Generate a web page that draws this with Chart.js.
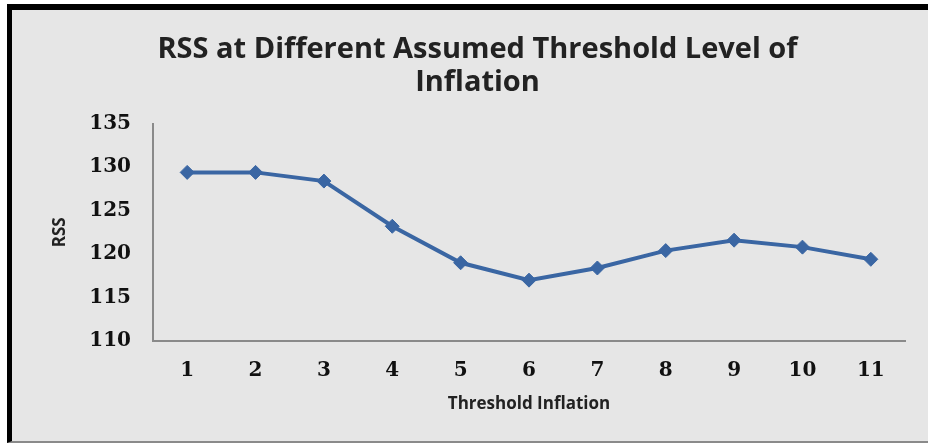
<!DOCTYPE html>
<html>
<head>
<meta charset="utf-8">
<script src="https://cdn.jsdelivr.net/npm/chart.js@4.4.1/dist/chart.umd.min.js"></script>
<style>
  html, body { margin: 0; padding: 0; background: #fff; }
  .frame {
    position: absolute;
    left: 7px;
    top: 4px;
    width: 921px;
    height: 431px;
    border-left: 5px solid #000;
    border-top: 6px solid #000;
    border-bottom: 2px solid #8a8a8a;
    background: #e6e6e6;
  }
  canvas { display: block; }
</style>
</head>
<body>
<div class="frame"><canvas id="rssChart" width="916" height="431"></canvas></div>
<script>
// Threshold levels tested and the residual sum of squares for each
const thresholds = ["1", "2", "3", "4", "5", "6", "7", "8", "9", "10", "11"];
const rssValues = [129.4, 129.4, 128.4, 123.2, 119.0, 117.0, 118.4, 120.4, 121.6, 120.8, 119.4];
const rssTicks = [110, 115, 120, 125, 130, 135];

const lineBlue = "#3a66a3";
const tickFont = { family: "DejaVu Serif", size: 20, weight: "bold" };
const labelFont = { family: "Open Sans", size: 17, weight: "bold" };

new Chart(document.getElementById("rssChart"), {
  type: "line",
  data: {
    labels: thresholds,
    datasets: [{
      label: "RSS",
      data: rssValues,
      borderColor: lineBlue,
      backgroundColor: lineBlue,
      borderWidth: 4,
      pointStyle: "rectRot",
      pointRadius: 7,
      pointBorderWidth: 1,
      tension: 0,
      fill: false
    }]
  },
  options: {
    responsive: false,
    animation: false,
    layout: { padding: { left: 38, right: 23, top: 0, bottom: 27 } },
    plugins: {
      legend: { display: false },
      tooltip: { enabled: false },
      title: {
        display: true,
        text: ["RSS at Different Assumed Threshold Level of", "Inflation"],
        color: "#222",
        font: { family: "Open Sans", size: 29, weight: "bold", lineHeight: 1.15 },
        padding: { top: 23, bottom: 24 }
      }
    },
    scales: {
      x: {
        offset: true,
        grid: { display: false, drawTicks: false },
        border: { display: true, color: "#8a8a8a", width: 2 },
        ticks: { color: "#111", font: tickFont, padding: 18 },
        title: {
          display: true,
          text: "Threshold Inflation",
          color: "#222",
          font: labelFont,
          padding: { top: 4, bottom: 0 }
        },
        afterFit: (scale) => { scale.height = 73; }
      },
      y: {
        min: 110,
        max: 135,
        afterBuildTicks: (scale) => { scale.ticks = rssTicks.map(v => ({ value: v })); },
        grid: { display: false, drawTicks: true, tickLength: 8, tickColor: "#8a8a8a", tickWidth: 2 },
        border: { display: true, color: "#8a8a8a", width: 2 },
        ticks: { color: "#111", font: tickFont, padding: 14 },
        title: {
          display: true,
          text: "RSS",
          color: "#222",
          font: labelFont,
          padding: { top: 0, bottom: 0 }
        },
        afterFit: (scale) => { scale.width = 103; }
      }
    }
  }
});
</script>
</body>
</html>
